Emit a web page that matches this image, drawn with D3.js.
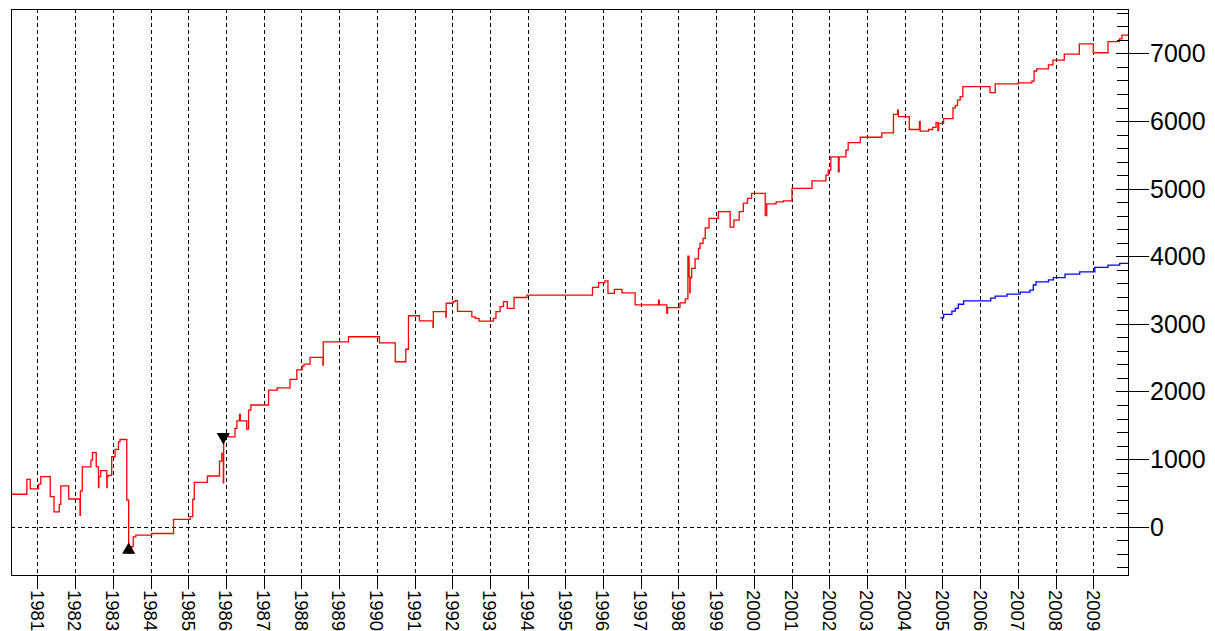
<!DOCTYPE html>
<html>
<head>
<meta charset="utf-8">
<script src="https://cdn.jsdelivr.net/npm/d3@7"></script>
<style>
  html, body { margin: 0; padding: 0; background: #fff; overflow: hidden; }
  svg { display: block; font-family: "Liberation Sans", Arial, sans-serif; }
</style>
</head>
<body>
<svg id="chart" width="1215" height="631"></svg>
<script>
// ---- data ----
const yearTicks = d3.range(1981, 2010);
const yMajorTicks = [0, 1000, 2000, 3000, 4000, 5000, 6000, 7000];
const yMinorTicks = d3.range(-600, 7700, 200).filter(v => v % 1000 !== 0);

const redYears = [1980.30, 1980.72, 1980.81, 1981.03, 1981.09, 1981.34, 1981.44, 1981.58, 1981.62, 1981.83,
  1982.13, 1982.14, 1982.19, 1982.42, 1982.46, 1982.56, 1982.62, 1982.63, 1982.68, 1982.84, 1982.85, 1982.88,
  1982.97, 1983.06, 1983.15, 1983.19, 1983.37, 1983.42, 1983.50, 1983.54, 1983.61, 1984.03, 1984.61,
  1985.05, 1985.12, 1985.16, 1985.51, 1985.83, 1985.89, 1985.93, 1985.94, 1986.06, 1986.24, 1986.29,
  1986.36, 1986.38, 1986.55, 1986.60, 1986.66, 1987.13, 1987.36, 1987.70, 1987.88, 1988.02, 1988.07,
  1988.23, 1988.57, 1988.58, 1989.25, 1990.07, 1990.49, 1990.77, 1990.84, 1991.13, 1991.49, 1991.50,
  1991.83, 1991.84, 1992.02, 1992.08, 1992.14, 1992.52, 1992.61, 1992.71, 1993.09, 1993.16, 1993.27,
  1993.36, 1993.46, 1993.64, 1993.98, 1995.72, 1995.88, 1996.05, 1996.13, 1996.30, 1996.50, 1996.85,
  1997.47, 1997.49, 1997.69, 1997.71, 1998.04, 1998.18, 1998.25, 1998.28, 1998.30, 1998.31, 1998.35,
  1998.44, 1998.53, 1998.57, 1998.65, 1998.71, 1998.81, 1999.06, 1999.37, 1999.47, 1999.61, 1999.72,
  1999.83, 1999.94, 2000.30, 2000.34, 2000.59, 2000.78, 2001.01, 2001.54, 2001.91, 2001.97, 2002.04,
  2002.24, 2002.26, 2002.44, 2002.50, 2002.82, 2003.39, 2003.70, 2003.81, 2003.83, 2004.12, 2004.39,
  2004.41, 2004.63, 2004.74, 2004.83, 2004.88, 2004.90, 2005.03, 2005.28, 2005.34, 2005.40, 2005.47,
  2005.54, 2006.26, 2006.40, 2007.01, 2007.37, 2007.43, 2007.50, 2007.81, 2007.93, 2008.23, 2008.63,
  2009.00, 2009.39, 2009.69, 2009.76, 2009.92];
const redValues = [480, 700, 560, 630, 740, 445, 220, 330, 605, 410,
  170, 530, 885, 985, 1095, 885, 580, 740, 830, 580, 740, 760,
  1035, 1145, 1255, 1290, 395, -390, -295, -150, -125, -100, 110,
  150, 405, 655, 750, 970, 1085, 650, 1340, 1330, 1455, 1565,
  1660, 1565, 1445, 1725, 1800, 2020, 2055, 2180, 2320, 2375, 2405,
  2505, 2390, 2735, 2810, 2720, 2440, 2625, 3120, 3045, 2950, 3180,
  3100, 3305, 3330, 3345, 3185, 3105, 3080, 3040, 3080, 3180, 3255,
  3330, 3230, 3390, 3425, 3540, 3610, 3635, 3450, 3510, 3460, 3280,
  3350, 3280, 3155, 3240, 3310, 3370, 4000, 3700, 3460, 3680, 3820,
  3960, 4115, 4190, 4265, 4420, 4560, 4660, 4430, 4535, 4660, 4785,
  4855, 4930, 4600, 4775, 4805, 4820, 5005, 5115, 5200, 5275, 5470,
  5250, 5470, 5570, 5680, 5760, 5825, 6100, 6160, 6065, 5875, 5990,
  5850, 5875, 5905, 5980, 5860, 5965, 6035, 6195, 6230, 6310, 6360,
  6510, 6420, 6550, 6565, 6590, 6740, 6770, 6830, 6900, 6990, 7140,
  7010, 7175, 7215, 7270, 7270];

const blueYears = [2004.94, 2005.03, 2005.25, 2005.34, 2005.42, 2005.56, 2006.28, 2006.40, 2006.71,
  2007.06, 2007.32, 2007.41, 2007.48, 2007.81, 2007.94, 2008.25, 2008.64, 2009.04, 2009.39, 2009.70, 2009.92];
const blueValues = [3090, 3140, 3190, 3230, 3290, 3340, 3380, 3410, 3440,
  3470, 3500, 3575, 3620, 3650, 3685, 3735, 3770, 3835, 3870, 3895, 3895];

const markerYears = [1983.42, 1985.93];
const markerValues = [-345, 1330];
const markerTypes = ["up", "down"];

// ---- layout ----
const svg = d3.select("#chart");
const plotL = 11, plotR = 1128, plotT = 9, plotB = 575;

const x = d3.scaleLinear().domain([1980.30, 2009.92]).range([plotL, plotR]);
const y = d3.scaleLinear().domain([-714, 7657]).range([plotB, plotT]);

svg.append("rect").attr("x", 0).attr("y", 0).attr("width", 1215).attr("height", 631).attr("fill", "#fff");

// vertical grid
svg.append("g").selectAll("line").data(yearTicks).join("line")
  .attr("x1", d => Math.round(x(d)) + 0.5).attr("x2", d => Math.round(x(d)) + 0.5)
  .attr("y1", plotT).attr("y2", plotB)
  .attr("stroke", "#000").attr("stroke-width", 1).attr("stroke-dasharray", "4,3");

// zero line
svg.append("line")
  .attr("x1", plotL).attr("x2", plotR)
  .attr("y1", Math.round(y(0)) + 0.5).attr("y2", Math.round(y(0)) + 0.5)
  .attr("stroke", "#000").attr("stroke-width", 1).attr("stroke-dasharray", "4,3");

// series
const redData = redYears.map((t, i) => [t, redValues[i]]);
const blueData = blueYears.map((t, i) => [t, blueValues[i]]);
const line = d3.line().x(d => x(d[0])).y(d => y(d[1])).curve(d3.curveStepAfter);

svg.append("path").datum(redData).attr("d", line)
  .attr("fill", "none").attr("stroke", "#ff0000").attr("stroke-width", 1.3);
svg.append("path").datum(blueData).attr("d", line)
  .attr("fill", "none").attr("stroke", "#0000ff").attr("stroke-width", 1.3);

// markers
const tri = d3.symbol().type(d3.symbolTriangle).size(75);
svg.append("g").selectAll("path").data(markerYears).join("path")
  .attr("d", tri)
  .attr("transform", (d, i) => `translate(${x(d)},${y(markerValues[i])}) rotate(${markerTypes[i] === "down" ? 180 : 0})`)
  .attr("fill", "#000");

// frame
svg.append("rect")
  .attr("x", plotL + 0.5).attr("y", plotT + 0.5)
  .attr("width", plotR - plotL).attr("height", plotB - plotT)
  .attr("fill", "none").attr("stroke", "#000").attr("stroke-width", 1);

// right axis ticks
const ax = svg.append("g");
ax.selectAll("line.minor").data(yMinorTicks).join("line")
  .attr("class", "minor")
  .attr("x1", plotR - 11).attr("x2", plotR)
  .attr("y1", d => Math.round(y(d)) + 0.5).attr("y2", d => Math.round(y(d)) + 0.5)
  .attr("stroke", "#000").attr("stroke-width", 1);
ax.selectAll("line.major").data(yMajorTicks).join("line")
  .attr("class", "major")
  .attr("x1", plotR - 12).attr("x2", plotR + 21)
  .attr("y1", d => Math.round(y(d)) + 0.5).attr("y2", d => Math.round(y(d)) + 0.5)
  .attr("stroke", "#000").attr("stroke-width", 1);
ax.selectAll("text").data(yMajorTicks).join("text")
  .attr("x", plotR + 22).attr("y", d => y(d))
  .attr("dy", "0.36em")
  .attr("font-size", 25).attr("fill", "#000")
  .text(d => d);

// bottom axis
const bx = svg.append("g");
bx.selectAll("line").data(yearTicks).join("line")
  .attr("x1", d => Math.round(x(d)) + 0.5).attr("x2", d => Math.round(x(d)) + 0.5)
  .attr("y1", plotB).attr("y2", plotB + 14)
  .attr("stroke", "#000").attr("stroke-width", 1);
bx.selectAll("text").data(yearTicks).join("text")
  .attr("transform", d => `translate(${x(d)},${plotB + 15}) rotate(90)`)
  .attr("dy", "0.36em")
  .attr("font-size", 18.5).attr("fill", "#000")
  .text(d => d);
</script>
</body>
</html>
